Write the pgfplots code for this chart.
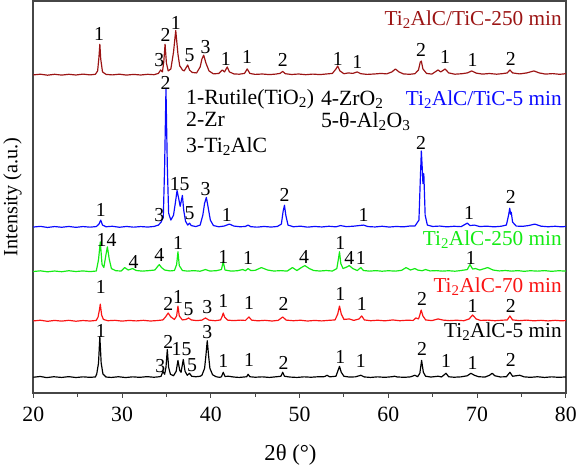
\documentclass[border=0pt]{standalone}
\usepackage{fontspec}
\setmainfont{Liberation Serif}
\usepackage{pgfplots}
\pgfplotsset{compat=1.18}
\definecolor{sdred}{RGB}{155,20,20}
\definecolor{sblue}{RGB}{10,10,255}
\definecolor{sgreen}{RGB}{20,235,20}
\definecolor{sred}{RGB}{250,20,20}
\definecolor{frame}{RGB}{70,70,70}
\newcommand{\pk}{\fontsize{20}{20}\selectfont}
\newcommand{\lb}{\fontsize{21.5}{21.5}\selectfont}
\newcommand{\kb}{\fontsize{22}{22}\selectfont}
\begin{document}
\begin{tikzpicture}
\begin{axis}[
    width=539pt, height=397pt, scale only axis,
    xmin=20, xmax=80, ymin=0, ymax=397,
    xtick={20,30,...,80}, minor xtick={25,35,...,75},
    ytick=\empty, xtick pos=bottom, tick align=outside,
    major tick length=5pt, minor tick length=3.5pt,
    every tick/.style={frame, line width=1pt},
    axis line style={frame, line width=1.6pt},
    /pgf/number format/assume math mode=true,
    ticklabel style={font=\fontsize{22}{22}\selectfont},
    xticklabel style={yshift=-6pt},
    xlabel={2θ (°)},
    ylabel={Intensity (a.u.)},
    every axis y label/.style={at={(axis description cs:-0.039,0.5)}, rotate=90, anchor=center,
        font=\fontsize{20.5}{20.5}\selectfont},
    every axis x label/.style={at={(axis description cs:0.483,0)}, anchor=center, yshift=-63pt,
        font=\fontsize{23}{23}\selectfont},
    clip=false,
    every axis plot/.append style={line width=1.2pt, line join=round},
]
% Ti2AlC-5 min
\addplot[black] coordinates {
(20,16) (20.8,16.8) (21.5,15.6) (22.3,16.5) (23.2,15.8) (24.0,16.6) (24.8,15.7) (25.6,16.4) (26.4,15.9) (27.0,16.3)
(27.15,19.3) (27.35,30.4) (27.5,57) (27.65,30.4) (27.85,19.3) (28.2,16.2)
(28.8,15.8) (29.6,16.5) (30.4,15.7) (31.2,16.4) (32.0,15.9) (32.8,16.6) (33.6,16.0) (34.2,16.5)
(34.4,17) (34.6,22) (34.8,19) (34.95,26) (35.1,44) (35.25,26) (35.45,19)
(35.8,17.5) (36.1,22) (36.3,33) (36.5,23) (36.65,21) (36.9,34) (37.1,22) (37.35,18) (37.6,20) (37.85,17) (38.3,16.5) (38.8,17)
(39.0,18) (39.3,25) (39.45,38) (39.6,53) (39.75,38) (39.9,25) (40.2,18.5) (40.6,16.5)
(41.0,15.9) (41.2,16.5) (41.4,21) (41.6,16.8) (42.0,17) (42.6,16.2) (43.2,15.8) (43.8,16.3) (44.05,16.5) (44.2,19) (44.4,16.5)
(45.0,16.0) (45.8,16.4) (46.6,15.8) (47.4,16.5) (47.9,17) (48.1,21) (48.3,17) (48.9,16.2) (49.7,15.8) (50.5,16.4) (51.3,16.0) (52.1,16.5)
(52.8,16.6) (53.1,18) (53.4,16.4) (54.1,17) (54.3,22) (54.5,27) (54.7,21) (55.0,17) (55.6,16.2) (56.3,16.4) (56.9,18) (57.3,16.3)
(58.0,15.8) (58.8,16.4) (59.6,15.9) (60.4,16.5) (60.7,17) (61.0,16.3) (61.8,15.9) (62.5,16.4) (63.0,18) (63.3,16.5)
(63.55,20) (63.75,33) (63.95,21) (64.2,17) (64.8,16.2) (65.6,17) (66.0,16.3) (66.5,20) (66.8,16.5) (67.4,16) (68.2,16.4)
(68.9,17.5) (69.3,20) (69.7,18) (70.2,16.5) (70.9,16.2) (71.4,18) (71.7,20) (72.0,17.5) (72.6,16.3) (73.3,16.5) (73.7,21) (74.0,17)
(74.8,18) (75.3,16.4) (76.0,15.9) (76.8,16.5) (77.6,15.8) (78.4,16.4) (79.2,15.9) (80,16.3)
};
% Ti2AlC-70 min
\addplot[sred] coordinates {
(20,73) (20.8,73.7) (21.6,72.6) (22.4,73.5) (23.2,72.8) (24.0,73.6) (24.8,72.7) (25.6,73.4) (26.4,72.9) (27.1,73.5)
(27.3,77) (27.45,84) (27.55,90) (27.7,79) (27.9,74.5) (28.4,73.2) (29.2,73.6) (30.0,72.8) (30.8,73.5) (31.6,73.0) (32.4,73.6)
(33.2,72.9) (34.0,73.4) (34.6,74) (34.9,77) (35.2,81) (35.5,77) (35.9,74.5) (36.15,78) (36.3,88) (36.45,78) (36.8,74)
(37.2,74.5) (37.5,76) (37.8,74) (38.4,73.3) (39.0,73.8) (39.4,76) (39.8,73.8) (40.5,73.2) (41.1,74) (41.3,78) (41.4,81)
(41.55,77) (41.9,73.8) (42.6,73.3) (43.3,73.8) (43.9,73.5) (44.3,77) (44.6,73.8) (45.3,73.1) (46.1,73.6) (46.9,72.9)
(47.6,73.6) (48.1,77) (48.5,73.8) (49.3,73.2) (50.1,73.7) (50.9,72.9) (51.7,73.5) (52.5,73.0) (53.3,73.6) (54.0,74)
(54.3,80) (54.5,88) (54.7,80) (55.0,74.5) (55.6,75) (56.1,73.5) (56.7,75) (57.0,78) (57.3,74) (58.0,73.2) (58.8,73.7)
(59.6,73.1) (60.5,74) (61.3,73.2) (62.1,73.7) (62.8,73.5) (63.1,76) (63.4,75) (63.55,79) (63.7,84) (63.9,78) (64.2,74)
(64.9,73.3) (65.6,75) (66.2,73.8) (66.9,73.3) (67.7,73.7) (68.5,73.2) (69.1,75) (69.5,79) (69.9,75) (70.4,73.5) (71.2,73.8)
(72.0,73.2) (72.8,73.7) (73.4,74) (73.7,78) (74.0,74) (74.8,73.3) (75.6,73.8) (76.4,73.1) (77.2,73.6) (78.0,73.0)
(78.8,73.6) (79.5,73.1) (80,73.4)
};
% Ti2AlC-250 min
\addplot[sgreen] coordinates {
(20,123) (20.8,123.7) (21.6,122.7) (22.4,123.5) (23.2,122.8) (24.0,123.8) (24.8,123.0) (25.6,123.6) (26.4,122.9) (27.1,123.5)
(27.35,135) (27.55,153) (27.75,130) (27.95,127) (28.15,138) (28.35,148) (28.55,136) (28.8,126) (29.3,123.8) (29.9,123.5)
(30.3,127) (30.7,124.5) (31.2,126) (31.6,124) (32.3,123.4) (33.0,123.9) (33.7,124.5) (34.0,128) (34.2,130) (34.45,127)
(34.8,124.5) (35.4,123.6) (35.9,124) (36.15,130) (36.3,143) (36.45,129) (36.8,124) (37.4,123.4) (38.1,123.9) (38.8,123.3)
(39.4,125) (39.9,123.5) (40.6,123.8) (41.2,125) (41.4,133) (41.6,124.5) (42.3,123.4) (43.0,123.8) (43.6,125) (43.9,123.8)
(44.2,126) (44.5,124) (45.0,124.2) (45.7,127) (46.4,124.5) (47.1,123.5) (47.9,123.9) (48.6,123.4) (49.2,127) (49.7,124)
(50.2,127) (50.6,129) (51.1,126) (51.6,124) (52.3,123.5) (53.0,124) (53.7,123.5) (54.2,126) (54.4,137) (54.5,143)
(54.65,131) (54.9,126) (55.3,127.5) (55.6,129) (56.0,126) (56.5,124) (56.9,127) (57.2,124) (57.9,123.4) (58.6,123.9)
(59.3,123.3) (60.0,123.8) (60.8,123.4) (61.5,124.2) (62.0,127) (62.5,124.5) (63.0,126) (63.3,124.5) (63.8,123.8) (64.2,125)
(64.7,123.6) (65.4,123.9) (66.1,123.4) (66.8,123.8) (67.5,123.3) (68.2,124) (68.9,125) (69.2,130) (69.5,125.5) (69.8,126)
(70.3,124.5) (71.2,127) (71.8,124.5) (72.5,123.6) (73.2,124.0) (73.9,123.4) (74.6,123.9) (75.3,123.2) (76.0,123.8)
(76.8,123.4) (77.6,123.9) (78.4,123.2) (79.2,123.8) (80,123.4)
};
% Ti2AlC/TiC-5 min
\addplot[sblue] coordinates {
(20,168) (20.8,168.7) (21.6,167.6) (22.4,168.5) (23.2,167.8) (24.0,168.6) (24.8,167.7) (25.6,168.5) (26.4,167.9) (27.1,168.5)
(27.4,171) (27.6,175) (27.8,170) (28.2,168.3) (28.9,168.8) (29.7,167.8) (30.5,168.6) (31.3,167.9) (32.1,168.5) (32.9,168.0)
(33.6,168.6) (34.1,170) (34.4,173) (34.65,178) (34.8,230) (34.95,308) (35.1,230) (35.25,182) (35.5,175) (35.8,180) (36.0,192)
(36.2,205) (36.4,196) (36.55,189) (36.8,200) (36.95,185) (37.15,174) (37.4,170) (37.6,172) (37.8,169.5) (38.3,168.5)
(38.8,170) (39.1,180) (39.3,192) (39.5,198) (39.7,188) (39.95,175) (40.3,169.5) (40.9,168.3) (41.5,169) (42.1,171)
(42.6,169) (43.3,168.3) (43.9,168.6) (44.2,170) (44.5,168.4) (45.2,167.9) (46.0,168.6) (46.8,168.0) (47.5,168.6)
(47.95,171) (48.15,184) (48.3,190) (48.45,180) (48.7,170) (49.3,168.3) (50.1,168.9) (50.9,167.9) (51.7,168.6) (52.5,168.1)
(53.3,168.8) (54.1,168.2) (54.6,169.5) (55.3,168.4) (56.1,168.9) (56.7,169.5) (57.2,170) (57.7,168.5) (58.5,168.1)
(59.3,168.8) (60.1,168.0) (60.9,168.6) (61.7,168.2) (62.4,169) (63.0,169) (63.45,175) (63.6,215) (63.72,245) (63.82,228)
(63.9,212) (64.0,222) (64.15,180) (64.4,170) (65.0,168.6) (65.8,169) (66.6,168.2) (67.4,168.8) (68.2,168.4) (68.9,172)
(69.2,169.5) (69.7,170) (70.3,168.5) (71.1,168.9) (71.9,168.2) (72.7,168.8) (73.3,170) (73.55,180) (73.68,187) (73.78,181)
(73.85,183) (74.0,173) (74.4,169) (75.1,168.7) (75.8,169.5) (76.5,171) (77.2,168.9) (78.0,168.3) (78.8,168.8) (79.5,168.2)
(80,168.6)
};
% Ti2AlC/TiC-250 min
\addplot[sdred] coordinates {
(20,322) (20.8,322.7) (21.6,321.7) (22.4,322.6) (23.2,321.8) (24.0,322.6) (24.8,321.9) (25.6,322.8) (26.4,322.0) (27.0,322.6)
(27.25,326) (27.4,340) (27.5,353) (27.6,338) (27.8,325) (28.2,322.5) (28.9,322.0) (29.7,322.7) (30.5,321.8) (31.3,322.5)
(32.1,321.9) (32.9,322.6) (33.6,322.2) (34.1,323.5) (34.35,327) (34.55,325) (34.7,335) (34.85,353) (35.0,334) (35.2,326)
(35.5,328) (35.8,345) (36.05,367) (36.3,343) (36.5,331) (36.6,330) (36.8,327) (37.0,326) (37.2,329) (37.4,332) (37.6,327)
(37.9,324.5) (38.4,324) (38.8,330) (39.0,338) (39.2,342) (39.45,334) (39.8,326) (40.3,323) (40.9,323.5) (41.3,327)
(41.55,325) (41.85,330) (42.1,325) (42.6,323) (43.2,322.7) (43.8,323.5) (44.1,328) (44.4,323.5) (45.0,322.5) (45.8,322.9)
(46.6,322.3) (47.3,322.8) (47.8,323.5) (48.1,325.5) (48.4,323.2) (49.1,322.4) (49.9,322.9) (50.7,322.2) (51.5,322.8)
(52.3,322.3) (53.0,322.9) (53.7,323.5) (54.1,328) (54.3,331) (54.55,326) (55.0,323.2) (55.5,324) (56.0,323.5) (56.5,325)
(56.9,323.2) (57.6,322.5) (58.4,322.9) (59.2,323.5) (59.8,323) (60.4,325) (60.8,328) (61.2,325) (61.7,323) (62.4,322.6)
(63.0,323.2) (63.4,327) (63.6,335) (63.72,336) (63.9,328) (64.3,323.5) (64.9,322.8) (65.6,327) (65.9,325) (66.4,328)
(66.8,324) (67.5,322.7) (68.3,323.2) (68.9,324) (69.4,326) (69.9,323.8) (70.6,322.8) (71.4,323.4) (72.2,322.7) (72.9,323.3)
(73.4,324) (73.7,327) (74.0,324) (74.8,323) (75.6,324) (76.4,326) (77.0,324) (77.7,322.8) (78.5,323.3) (79.3,322.6) (80,323.2)
};
% series names
\begin{scope}[every node/.style={anchor=east, font=\lb, inner sep=0pt}]
\node[text=sdred] at (axis cs:79.55,378) {Ti\textsubscript{2}AlC/TiC-250 min};
\node[text=sblue] at (axis cs:79.55,297) {Ti\textsubscript{2}AlC/TiC-5 min};
\node[text=sgreen] at (axis cs:79.55,155) {Ti\textsubscript{2}AlC-250 min};
\node[text=sred] at (axis cs:79.55,108) {Ti\textsubscript{2}AlC-70 min};
\node[text=black] at (axis cs:79.55,62) {Ti\textsubscript{2}AlC-5 min};
\end{scope}
% phase key
\begin{scope}[every node/.style={anchor=west, font=\kb, inner sep=0pt}]
\node at (axis cs:37.2,297) {1-Rutile(TiO\textsubscript{2})};
\node at (axis cs:52.4,297) {4-ZrO\textsubscript{2}};
\node at (axis cs:37.2,277) {2-Zr};
\node at (axis cs:37.2,250) {3-Ti\textsubscript{2}AlC};
\node at (axis cs:52.4,275) {5-θ-Al\textsubscript{2}O\textsubscript{3}};
\end{scope}
% peak indices
\begin{scope}[every node/.style={font=\pk, inner sep=0pt}]
% Ti2AlC/TiC-250 min
\node at (axis cs:27.4,363) {1};
\node at (axis cs:34.2,337) {3};
\node at (axis cs:34.9,362) {2};
\node at (axis cs:36.05,375) {1};
\node at (axis cs:37.6,342) {5};
\node at (axis cs:39.4,350) {3};
\node at (axis cs:41.7,338) {1};
\node at (axis cs:44.1,340) {1};
\node at (axis cs:48.1,337) {2};
\node at (axis cs:54.3,338) {1};
\node at (axis cs:56.5,335) {1};
\node at (axis cs:63.7,347) {2};
\node at (axis cs:66.4,340) {1};
\node at (axis cs:69.5,337) {1};
\node at (axis cs:73.8,338) {2};
% Ti2AlC/TiC-5 min
\node at (axis cs:34.9,314) {2};
\node at (axis cs:27.6,185) {1};
\node at (axis cs:34.2,180) {3};
\node at (axis cs:36.5,212) {15};
\node at (axis cs:37.6,182) {5};
\node at (axis cs:39.4,206) {3};
\node at (axis cs:41.8,180) {1};
\node at (axis cs:48.3,200) {2};
\node at (axis cs:57.2,180) {1};
\node at (axis cs:63.7,253) {2};
\node at (axis cs:69.1,182) {1};
\node at (axis cs:73.8,198) {2};
% Ti2AlC-250 min
\node at (axis cs:28.25,155) {14};
\node at (axis cs:31.3,133) {4};
\node at (axis cs:34.2,140) {4};
\node at (axis cs:36.3,152) {1};
\node at (axis cs:41.4,138) {1};
\node at (axis cs:44.2,137) {1};
\node at (axis cs:50.5,138) {4};
\node at (axis cs:54.6,152) {1};
\node at (axis cs:55.6,137) {4};
\node at (axis cs:56.9,137) {1};
\node at (axis cs:69.3,137) {1};
% Ti2AlC-70 min
\node at (axis cs:27.6,107) {1};
\node at (axis cs:35.2,90) {2};
\node at (axis cs:36.3,97) {1};
\node at (axis cs:37.5,85) {5};
\node at (axis cs:39.6,87) {3};
\node at (axis cs:41.4,93) {1};
\node at (axis cs:44.3,91) {1};
\node at (axis cs:48.2,90) {2};
\node at (axis cs:54.6,100) {1};
\node at (axis cs:57.0,90) {1};
\node at (axis cs:63.8,95) {2};
\node at (axis cs:69.5,88) {1};
\node at (axis cs:73.8,88) {2};
% Ti2AlC-5 min
\node at (axis cs:27.6,63) {1};
\node at (axis cs:34.3,27) {3};
\node at (axis cs:35.2,52) {2};
\node at (axis cs:36.7,45) {15};
\node at (axis cs:37.9,28) {5};
\node at (axis cs:39.6,62) {3};
\node at (axis cs:41.4,32) {1};
\node at (axis cs:44.3,33) {1};
\node at (axis cs:48.2,30) {2};
\node at (axis cs:54.6,37) {1};
\node at (axis cs:56.9,32) {1};
\node at (axis cs:63.8,45) {2};
\node at (axis cs:66.5,32) {1};
\node at (axis cs:69.5,30) {1};
\node at (axis cs:73.8,33) {2};
\end{scope}
\end{axis}
\end{tikzpicture}
\end{document}
